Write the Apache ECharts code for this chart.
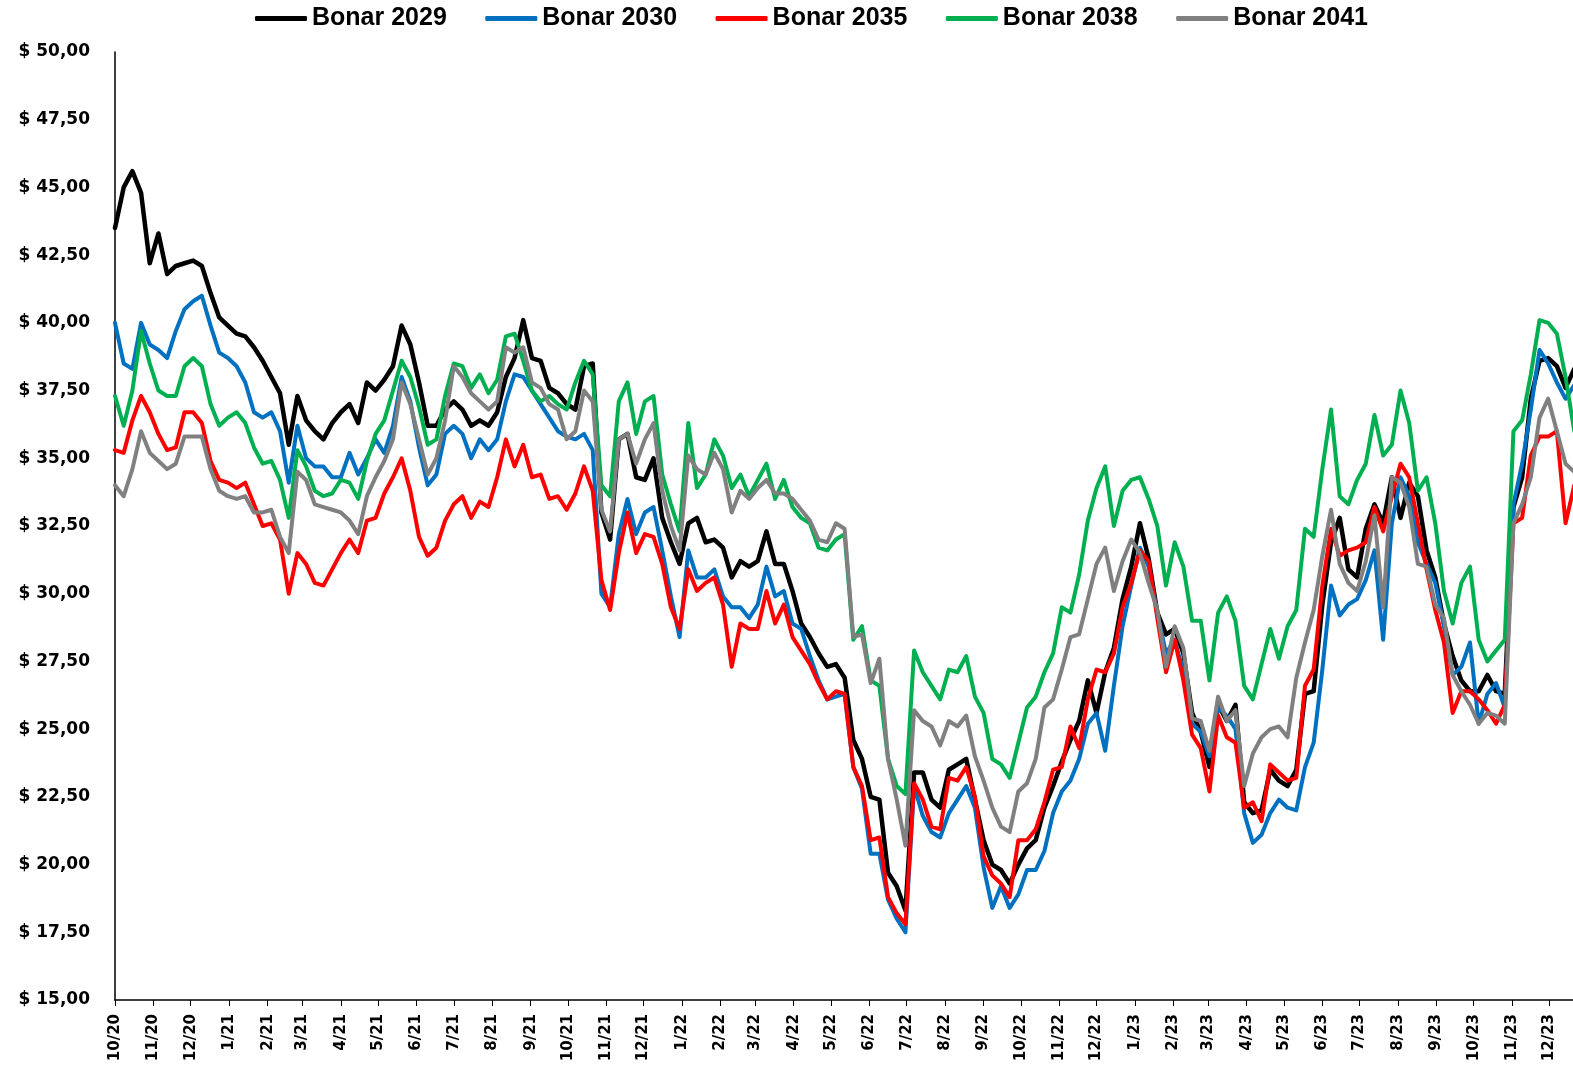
<!DOCTYPE html>
<html><head><meta charset="utf-8">
<script src="https://cdn.jsdelivr.net/npm/echarts@6/dist/echarts.min.js"></script>
<style>html,body{margin:0;padding:0;background:#fff}#c{width:1573px;height:1071px}</style>
</head><body><div id="c"></div>
<script>
// weekly samples starting 2020-10-01, one every 7 days
const startDate = Date.UTC(2020, 9, 1);
const stepDays = 7;
const axisEndDays = 1175;

const tickLabels = ['10/20','11/20','12/20','1/21','2/21','3/21','4/21','5/21','6/21','7/21','8/21','9/21',
  '10/21','11/21','12/21','1/22','2/22','3/22','4/22','5/22','6/22','7/22','8/22','9/22',
  '10/22','11/22','12/22','1/23','2/23','3/23','4/23','5/23','6/23','7/23','8/23','9/23',
  '10/23','11/23','12/23'];

const seriesNames = ['Bonar 2029','Bonar 2030','Bonar 2035','Bonar 2038','Bonar 2041'];

const bonar2029 = [
43.5,45.0,45.6,44.8,42.2,43.3,41.8,42.1,42.2,42.3,
42.1,41.1,40.2,39.9,39.6,39.5,39.1,38.6,38.0,37.4,
35.5,37.3,36.4,36.0,35.7,36.3,36.7,37.0,36.3,37.8,
37.5,37.9,38.4,39.9,39.2,37.8,36.2,36.2,36.8,37.1,
36.8,36.2,36.4,36.2,36.7,38.0,38.7,40.1,38.7,38.6,
37.6,37.4,37.0,36.8,38.4,38.5,33.0,32.0,35.7,35.9,
34.3,34.2,35.0,32.8,31.9,31.1,32.6,32.8,31.9,32.0,
31.7,30.6,31.2,31.0,31.2,32.3,31.1,31.1,30.1,28.9,
28.4,27.8,27.3,27.4,26.9,24.6,23.9,22.5,22.4,19.7,
19.2,18.3,23.4,23.4,22.4,22.1,23.5,23.7,23.9,22.4,
20.9,20.0,19.8,19.3,20.0,20.6,20.9,22.1,22.9,23.8,
24.6,25.3,26.8,25.6,27.1,28.0,29.8,31.0,32.6,31.3,
29.3,28.5,28.7,27.8,25.6,24.9,23.6,25.9,25.3,25.9,
22.3,21.9,22.0,23.5,23.1,22.9,23.5,26.3,26.4,29.6,
31.9,32.8,30.9,30.6,32.4,33.3,32.6,34.3,32.8,34.1,
33.6,31.6,30.6,28.9,27.7,26.8,26.4,26.4,27.0,26.4,
26.3,33.2,34.3,37.2,38.6,38.7,38.4,37.6,38.3];

const bonar2030 = [
40.0,38.5,38.3,40.0,39.2,39.0,38.7,39.7,40.5,40.8,
41.0,39.9,38.9,38.7,38.4,37.8,36.7,36.5,36.7,36.0,
34.1,36.2,35.0,34.7,34.7,34.3,34.3,35.2,34.4,35.0,
35.7,35.2,36.2,38.0,37.1,35.4,34.0,34.4,35.9,36.2,
35.9,35.0,35.7,35.3,35.7,37.1,38.1,38.0,37.5,37.0,
36.5,36.0,35.8,35.7,35.9,35.3,30.0,29.5,32.2,33.5,
32.2,33.0,33.2,31.6,29.9,28.4,31.6,30.6,30.6,30.9,
29.9,29.5,29.5,29.1,29.6,31.0,29.9,30.1,28.9,28.7,
27.7,26.8,26.1,26.2,26.3,23.6,22.8,20.4,20.4,18.7,
18.0,17.5,22.9,21.8,21.2,21.0,21.9,22.4,22.9,22.1,
19.9,18.4,19.2,18.4,18.9,19.8,19.8,20.5,21.9,22.7,
23.1,23.9,25.2,25.6,24.2,26.6,28.8,30.3,31.7,31.0,
29.3,27.8,28.3,27.1,25.2,24.9,24.0,25.8,25.5,25.0,
21.9,20.8,21.1,21.9,22.4,22.1,22.0,23.6,24.5,27.2,
30.3,29.2,29.6,29.8,30.5,31.6,28.3,32.6,34.3,33.6,
31.9,31.1,30.4,28.8,27.0,27.3,28.2,25.2,26.3,26.7,
25.8,33.3,34.8,36.8,39.0,38.5,37.8,37.2,37.7];

const bonar2035 = [
35.3,35.2,36.4,37.3,36.7,35.9,35.3,35.4,36.7,36.7,
36.3,34.9,34.2,34.1,33.9,34.1,33.3,32.5,32.6,32.0,
30.0,31.5,31.1,30.4,30.3,30.9,31.5,32.0,31.5,32.7,
32.8,33.7,34.3,35.0,33.8,32.1,31.4,31.7,32.7,33.3,
33.6,32.8,33.4,33.2,34.3,35.7,34.7,35.5,34.3,34.4,
33.5,33.6,33.1,33.7,34.7,33.8,30.5,29.4,31.5,33.0,
31.5,32.2,32.1,31.1,29.5,28.7,30.9,30.1,30.4,30.6,
29.6,27.3,28.9,28.7,28.7,30.1,28.9,29.6,28.4,27.9,
27.4,26.7,26.1,26.4,26.3,23.6,22.9,20.9,21.0,18.8,
18.2,17.8,23.0,22.4,21.4,21.3,23.2,23.1,23.6,22.5,
20.3,19.6,19.3,18.8,20.9,20.9,21.3,22.3,23.5,23.6,
25.1,24.3,26.1,27.2,27.1,27.8,29.5,30.4,31.6,31.2,
29.1,27.1,28.3,26.8,24.8,24.3,22.7,25.5,24.7,24.5,
22.1,22.3,21.6,23.7,23.4,23.1,23.2,26.6,27.2,30.3,
32.4,31.4,31.6,31.7,31.9,33.2,32.3,33.6,34.8,34.3,
32.6,30.9,29.4,28.2,25.6,26.4,26.4,26.1,25.7,25.2,
25.9,32.6,32.8,35.1,35.8,35.8,36.0,32.6,34.0];

const bonar2038 = [
37.3,36.2,37.5,39.7,38.5,37.5,37.3,37.3,38.4,38.7,
38.4,37.0,36.2,36.5,36.7,36.3,35.4,34.8,34.9,34.2,
32.8,35.3,34.7,33.8,33.6,33.7,34.2,34.1,33.5,34.9,
35.9,36.4,37.5,38.6,38.0,36.9,35.5,35.7,37.3,38.5,
38.4,37.6,38.1,37.4,37.9,39.5,39.6,38.6,37.5,37.1,
37.3,37.0,36.8,37.8,38.6,38.1,34.0,33.6,37.1,37.8,
35.9,37.1,37.3,34.4,33.3,32.3,36.3,33.9,34.4,35.7,
35.1,33.9,34.4,33.6,34.2,34.8,33.5,34.2,33.2,32.8,
32.6,31.7,31.6,32.0,32.2,28.3,28.8,26.8,26.6,23.9,
22.9,22.6,27.9,27.1,26.6,26.1,27.2,27.1,27.7,26.2,
25.6,23.9,23.7,23.2,24.5,25.8,26.2,27.1,27.8,29.5,
29.3,30.7,32.7,33.9,34.7,32.5,33.8,34.2,34.3,33.5,
32.5,30.3,31.9,31.0,29.0,29.0,26.8,29.3,29.9,29.0,
26.6,26.1,27.4,28.7,27.6,28.8,29.4,32.4,32.1,34.6,
36.8,33.6,33.3,34.2,34.8,36.6,35.1,35.5,37.5,36.3,
33.8,34.3,32.6,30.1,28.9,30.4,31.0,28.3,27.5,27.9,
28.3,36.0,36.4,38.1,40.1,40.0,39.6,38.0,36.0];

const bonar2041 = [
34.0,33.6,34.6,36.0,35.2,34.9,34.6,34.8,35.8,35.8,
35.8,34.6,33.8,33.6,33.5,33.6,33.0,33.0,33.1,32.1,
31.5,34.5,34.2,33.3,33.2,33.1,33.0,32.7,32.2,33.6,
34.3,34.9,35.7,37.8,37.0,35.7,34.4,35.0,36.4,38.4,
38.0,37.4,37.1,36.8,37.1,39.1,38.9,39.1,37.8,37.6,
37.0,36.8,35.7,36.0,37.5,37.1,33.1,32.3,35.7,35.9,
34.8,35.7,36.3,33.8,32.5,31.6,35.1,34.6,34.4,35.2,
34.6,33.0,33.8,33.5,33.9,34.2,33.7,33.7,33.5,33.1,
32.7,32.0,31.9,32.6,32.4,28.4,28.5,26.7,27.6,23.9,
22.4,20.7,25.7,25.3,25.1,24.4,25.3,25.1,25.5,24.0,
23.1,22.1,21.4,21.2,22.7,23.0,23.9,25.8,26.1,27.2,
28.4,28.5,29.8,31.1,31.7,30.1,31.2,32.0,31.5,30.4,
29.4,27.3,28.8,28.0,25.4,25.3,24.2,26.2,25.3,25.7,
22.9,24.1,24.7,25.0,25.1,24.7,26.9,28.2,29.4,31.4,
33.1,31.1,30.4,30.1,31.2,32.9,29.5,34.3,34.1,33.2,
31.1,31.0,29.6,29.1,27.0,26.4,25.9,25.2,25.6,25.5,
25.2,32.6,33.3,34.3,36.5,37.2,36.0,34.8,34.5];

const seriesValues = [bonar2029, bonar2030, bonar2035, bonar2038, bonar2041];
const seriesColors = ['#000000', '#0070C0', '#FF0000', '#00B050', '#808080'];

// day offsets of month-start ticks derived from labels
const dayMs = 86400000;
const tickDays = tickLabels.map(l => {
  const [m, y] = l.split('/').map(Number);
  return Math.round((Date.UTC(2000 + y, m - 1, 1) - startDate) / dayMs);
});
const labelByDay = {};
tickDays.forEach((d, i) => { labelByDay[d] = tickLabels[i]; });

const chart = echarts.init(document.getElementById('c'), null, {renderer: 'canvas'});
chart.setOption({
  animation: false,
  backgroundColor: '#ffffff',
  legend: {
    data: seriesNames,
    left: 250, top: 1,
    itemWidth: 52, itemHeight: 5, itemGap: 38.5,
    icon: 'roundRect',
    textStyle: {fontFamily: "'Liberation Sans', Arial", fontWeight: 'bold', fontSize: 25, color: '#000'}
  },
  grid: {left: 115, right: 0, top: 52, bottom: 71, containLabel: false},
  xAxis: {
    type: 'value', min: 0, max: axisEndDays,
    axisLine: {show: true, onZero: false, lineStyle: {color: '#000', width: 1.5}},
    axisTick: {show: true, customValues: tickDays, length: 6, lineStyle: {color: '#000', width: 1}},
    axisLabel: {
      customValues: tickDays, rotate: 90, margin: 14,
      formatter: v => labelByDay[Math.round(v)] || '',
      fontFamily: "'DejaVu Sans'", fontWeight: 'bold', fontSize: 15, color: '#000'
    },
    splitLine: {show: false}
  },
  yAxis: {
    type: 'value', min: 15, max: 50, interval: 2.5,
    axisLine: {show: true, lineStyle: {color: '#000', width: 1.5}},
    axisTick: {show: false},
    axisLabel: {
      margin: 25,
      formatter: v => '$ ' + v.toFixed(2).replace('.', ','),
      fontFamily: "'DejaVu Sans'", fontWeight: 'bold', fontSize: 17, color: '#000'
    },
    splitLine: {show: false}
  },
  series: seriesNames.map((name, k) => ({
    name: name,
    type: 'line',
    showSymbol: false,
    symbol: 'none',
    color: seriesColors[k],
    lineStyle: {width: k === 0 ? 4.5 : 4, color: seriesColors[k], join: 'round', cap: 'round'},
    data: seriesValues[k].map((v, i) => [i * stepDays, v]),
    z: 2 + k
  }))
});
</script>
</body></html>
